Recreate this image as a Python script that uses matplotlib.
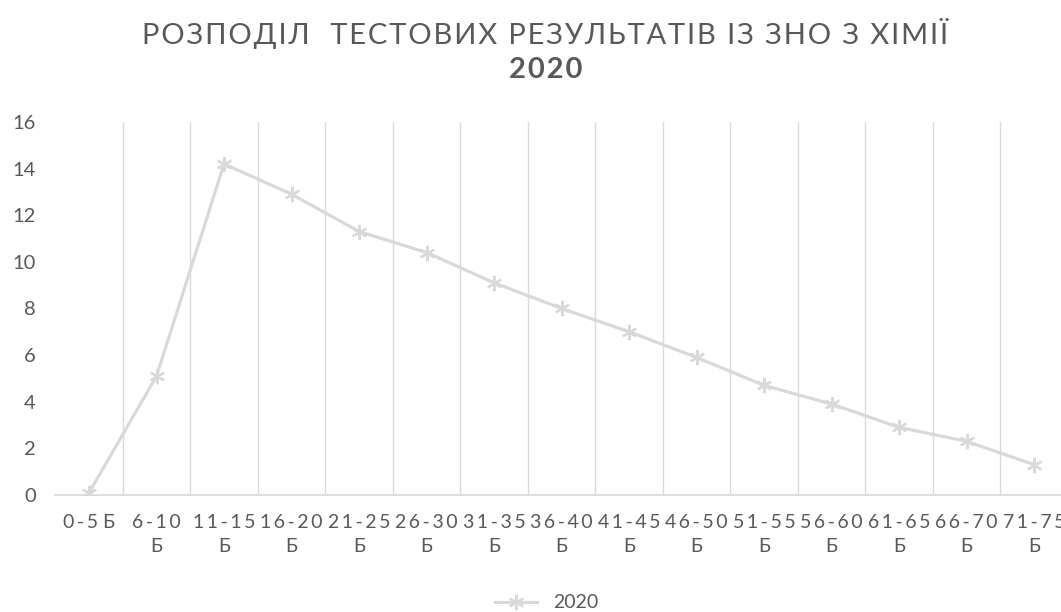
import matplotlib.pyplot as plt
import numpy as np

# score bands and share of participants (%)
bands = ['0-5 Б', '6-10 Б', '11-15 Б', '16-20 Б', '21-25 Б', '26-30 Б', '31-35 Б',
         '36-40 Б', '41-45 Б', '46-50 Б', '51-55 Б', '56-60 Б', '61-65 Б', '66-70 Б', '71-75 Б']
share_2020 = [0.1, 5.1, 14.2, 12.9, 11.3, 10.4, 9.1, 8.0, 7.0, 5.9, 4.7, 3.9, 2.9, 2.3, 1.3]
series_name = '2020'
title_line = 'РОЗПОДІЛ  ТЕСТОВИХ РЕЗУЛЬТАТІВ ІЗ ЗНО З ХІМІЇ'

plt.rcParams['font.family'] = ['Lato', 'DejaVu Sans']
txt = '#595959'
grid = '#d9d9d9'


def spaced(s):
    # wide letter spacing, band number on first line, unit below
    num, unit = s.split(' ')
    num = '\u2009'.join(num)
    if len(num) <= 5:
        return num + ' ' + unit
    return num + '\n' + unit


def tracked(s):
    return '\u200a'.join(s)


fig = plt.figure(figsize=(10.61, 6.12), dpi=100)
ax = fig.add_axes([0.0521, 0.1912, 0.9545, 0.6095])

x = np.arange(len(bands))
ax.plot(x, share_2020, color=grid, linewidth=2.3, marker=(6, 2, 0),
        markersize=11, markeredgewidth=1.6, markeredgecolor=grid, label=series_name)

ax.set_xlim(-0.5, len(bands) - 0.5)
ax.set_ylim(0, 16)
ax.set_yticks(np.arange(0, 17, 2))
ax.set_xticks(x)
ax.set_xticklabels([spaced(b) for b in bands], fontsize=14, color=txt, linespacing=1.45)
ax.set_xticks(np.arange(0.5, len(bands), 1), minor=True)
ax.grid(True, which='minor', axis='x', color=grid, linewidth=1)
ax.tick_params(axis='both', which='both', length=0)
ax.tick_params(axis='y', labelsize=14.5, labelcolor=txt, pad=14)
ax.tick_params(axis='x', pad=14)

for side in ['top', 'right', 'left']:
    ax.spines[side].set_visible(False)
ax.spines['bottom'].set_color(grid)
ax.spines['bottom'].set_linewidth(1.2)

fig.text(0.514, 0.945, tracked(title_line),
         ha='center', va='center', fontsize=21, color=txt)
fig.text(0.514, 0.885, tracked('2020'), ha='center', va='center', fontsize=21,
         color=txt, fontweight='bold')

fig.legend(loc='center', bbox_to_anchor=(0.515, 0.015), frameon=False,
           fontsize=14, labelcolor=txt, handlelength=2.2)

fig.savefig('out.png', dpi=100)
